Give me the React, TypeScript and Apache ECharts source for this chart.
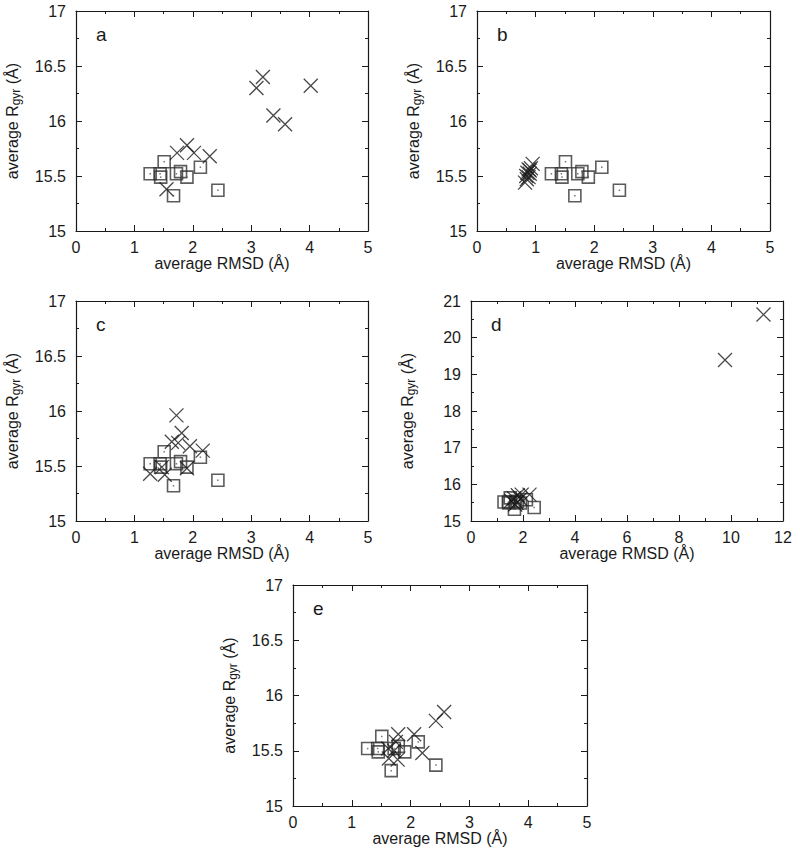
import React, { useEffect, useRef } from "react";
import * as echarts from "echarts";

// Reference (square) points, shared by all panels: [RMSD, Rgyr]
const referenceRMSD = [1.27, 1.44, 1.45, 1.51, 1.72, 1.79, 1.90, 2.13, 2.43, 1.67];
const referenceRgyr = [15.52, 15.52, 15.49, 15.63, 15.52, 15.54, 15.49, 15.58, 15.37, 15.32];

// Cross points per panel
const crossA_RMSD = [3.09, 3.20, 4.02, 3.38, 3.58, 1.73, 1.90, 2.02, 2.29, 1.55];
const crossA_Rgyr = [16.30, 16.40, 16.32, 16.05, 15.97, 15.71, 15.78, 15.71, 15.68, 15.38];

const crossB_RMSD = [0.82, 0.85, 0.84, 0.88, 0.86, 0.90, 0.88, 0.92, 0.95, 0.90];
const crossB_Rgyr = [15.44, 15.47, 15.50, 15.49, 15.53, 15.52, 15.56, 15.57, 15.61, 15.55];

const crossC_RMSD = [1.72, 1.81, 1.64, 1.75, 1.95, 2.17, 1.27, 1.47, 1.52, 1.90];
const crossC_Rgyr = [15.96, 15.80, 15.72, 15.71, 15.68, 15.64, 15.43, 15.49, 15.42, 15.48];

const crossD_RMSD = [9.77, 11.25, 1.55, 1.65, 1.75, 1.80, 1.70, 1.90, 1.95, 2.25];
const crossD_Rgyr = [19.39, 20.63, 15.55, 15.62, 15.50, 15.70, 15.45, 15.60, 15.72, 15.72];

const crossE_RMSD = [2.57, 2.43, 1.79, 2.06, 2.20, 1.75, 1.62, 1.63, 1.78, 1.72];
const crossE_Rgyr = [15.85, 15.77, 15.65, 15.65, 15.48, 15.58, 15.52, 15.43, 15.42, 15.50];

const panelLetters = ["a", "b", "c", "d", "e"];
const xMaxes = [5, 5, 5, 12, 5];
const xIntervals = [1, 1, 1, 2, 1];
const yMins = [15, 15, 15, 15, 15];
const yMaxes = [17, 17, 17, 21, 17];
const yIntervals = [0.5, 0.5, 0.5, 1, 0.5];

const crossX = [crossA_RMSD, crossB_RMSD, crossC_RMSD, crossD_RMSD, crossE_RMSD];
const crossY = [crossA_Rgyr, crossB_Rgyr, crossC_Rgyr, crossD_Rgyr, crossE_Rgyr];

const xAxisTitle = "average RMSD (Å)";

const FONT = "'Liberation Sans', Arial, Helvetica, sans-serif";
const INK = "#1a1a1a";

const grids = [
  { left: 76, top: 11, width: 292, height: 220 },
  { left: 477, top: 11, width: 293, height: 220 },
  { left: 76, top: 301, width: 292, height: 220 },
  { left: 471, top: 301, width: 312, height: 220 },
  { left: 293, top: 585, width: 294, height: 221 },
];

const zip = (xs: number[], ys: number[]) => xs.map((x, i) => [x, ys[i]]);

export default function App() {
  const ref = useRef<HTMLDivElement>(null);

  useEffect(() => {
    if (!ref.current) return;
    const chart = echarts.init(ref.current, undefined, { renderer: "svg" });

    const axisLine = { show: true, onZero: false, lineStyle: { color: INK, width: 1.2 } };
    const axisTick = { show: true, inside: true, length: 6, lineStyle: { color: INK, width: 1 } };
    const minorTick = { show: true, splitNumber: 2, length: 3, lineStyle: { color: INK, width: 1 } };
    const labelStyle = { color: INK, fontSize: 16, fontFamily: FONT };

    const xAxes: any[] = [];
    const yAxes: any[] = [];
    const series: any[] = [];
    const graphics: any[] = [];

    grids.forEach((g, i) => {
      xAxes.push({
        type: "value",
        gridIndex: i,
        position: "bottom",
        min: 0,
        max: xMaxes[i],
        interval: xIntervals[i],
        axisLine,
        axisTick,
        minorTick,
        splitLine: { show: false },
        axisLabel: { ...labelStyle, margin: 8 },
        name: xAxisTitle,
        nameLocation: "middle",
        nameGap: 20,
        nameTextStyle: { ...labelStyle },
      });
      xAxes.push({
        type: "value",
        gridIndex: i,
        position: "top",
        min: 0,
        max: xMaxes[i],
        interval: xIntervals[i],
        axisLine,
        axisTick,
        minorTick,
        splitLine: { show: false },
        axisLabel: { show: false },
      });
      yAxes.push({
        type: "value",
        gridIndex: i,
        position: "left",
        min: yMins[i],
        max: yMaxes[i],
        interval: yIntervals[i],
        axisLine,
        axisTick,
        minorTick,
        splitLine: { show: false },
        axisLabel: { ...labelStyle, margin: 10 },
        name: "{t|average R}{s|gyr}{t| (Å)}",
        nameLocation: "middle",
        nameGap: 54,
        nameTextStyle: {
          rich: {
            t: { fontSize: 16, fontFamily: FONT, color: INK, lineHeight: 20, verticalAlign: "middle" },
            s: { fontSize: 12, fontFamily: FONT, color: INK, verticalAlign: "bottom" },
          },
        },
      });
      yAxes.push({
        type: "value",
        gridIndex: i,
        position: "right",
        min: yMins[i],
        max: yMaxes[i],
        interval: yIntervals[i],
        axisLine,
        axisTick,
        minorTick,
        splitLine: { show: false },
        axisLabel: { show: false },
      });

      const xi = i * 2;
      const yi = i * 2;
      series.push({
        type: "scatter",
        xAxisIndex: xi,
        yAxisIndex: yi,
        symbol: "rect",
        symbolSize: 12,
        silent: true,
        itemStyle: { color: "transparent", borderColor: "#333", borderWidth: 1.6 },
        data: zip(referenceRMSD, referenceRgyr),
      });
      series.push({
        type: "scatter",
        xAxisIndex: xi,
        yAxisIndex: yi,
        symbol: "rect",
        symbolSize: 1.5,
        silent: true,
        itemStyle: { color: "#555" },
        data: zip(referenceRMSD, referenceRgyr),
      });
      series.push({
        type: "scatter",
        xAxisIndex: xi,
        yAxisIndex: yi,
        symbol: "path://M0,0L10,10M10,0L0,10",
        symbolSize: 14,
        silent: true,
        itemStyle: { color: "transparent", borderColor: INK, borderWidth: 1.3 },
        data: zip(crossX[i], crossY[i]),
      });

      graphics.push({
        type: "text",
        x: g.left + 20,
        y: g.top + 33,
        silent: true,
        style: {
          text: panelLetters[i],
          fontSize: 19,
          fontFamily: FONT,
          fill: INK,
          verticalAlign: "bottom",
        },
      });
    });

    chart.setOption({
      animation: false,
      backgroundColor: "#ffffff",
      grid: grids.map((g) => ({ ...g, containLabel: false })),
      xAxis: xAxes,
      yAxis: yAxes,
      series,
      graphic: graphics,
    });

    return () => chart.dispose();
  }, []);

  return (
    <div
      ref={ref}
      style={{ position: "fixed", left: 0, top: 0, width: 800, height: 855 }}
    />
  );
}
